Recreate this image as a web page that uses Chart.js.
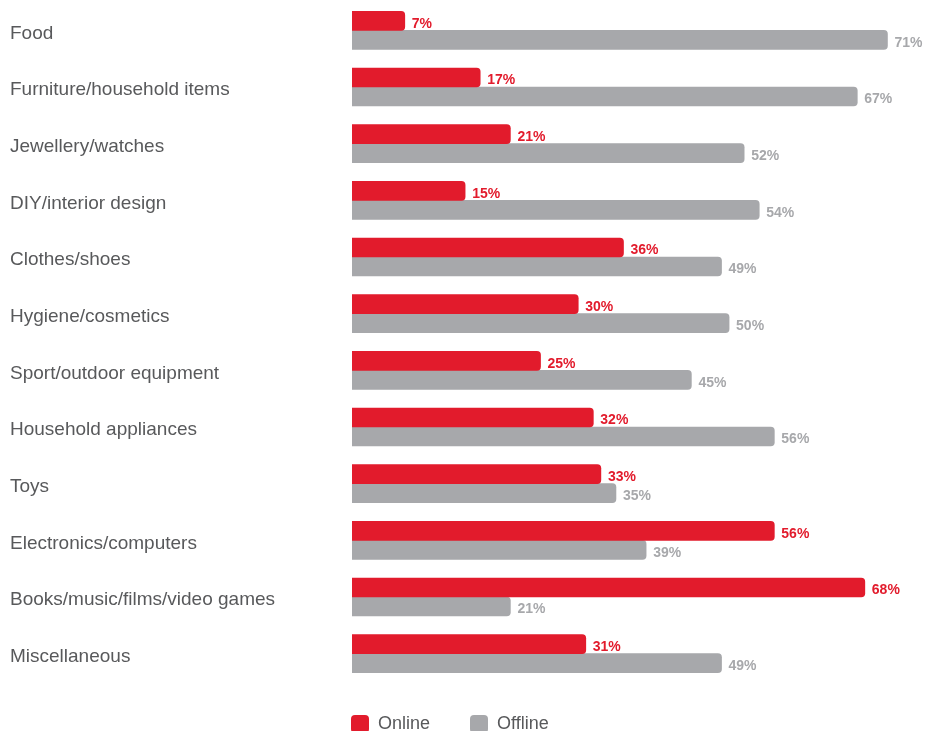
<!DOCTYPE html>
<html>
<head>
<meta charset="utf-8">
<script src="https://cdn.jsdelivr.net/npm/chart.js@4/dist/chart.umd.min.js"></script>
<style>
  html, body { margin: 0; padding: 0; background: #ffffff; }
  #wrap { position: relative; width: 935px; height: 731px; overflow: hidden; }
  #chart { position: absolute; left: 0; top: 0; }
  #legend { position: absolute; left: 351px; top: 713px; display: flex; align-items: center;
            font-family: "Liberation Sans", Arial, Helvetica, sans-serif; font-size: 18px; color: #58595b; }
  #legend .item { display: flex; align-items: center; margin-right: 40px; }
  #legend .box { width: 18px; height: 18px; border-radius: 4px; margin-right: 9px; }
</style>
</head>
<body>
<div id="wrap">
  <canvas id="chart" width="935" height="731"></canvas>
  <div id="legend"></div>
</div>
<script>
// ========== DATA ==========
var categories = [
  "Food",
  "Furniture/household items",
  "Jewellery/watches",
  "DIY/interior design",
  "Clothes/shoes",
  "Hygiene/cosmetics",
  "Sport/outdoor equipment",
  "Household appliances",
  "Toys",
  "Electronics/computers",
  "Books/music/films/video games",
  "Miscellaneous"
];
var onlineValues = [7, 17, 21, 15, 36, 30, 25, 32, 33, 56, 68, 31];
var offlineValues = [71, 67, 52, 54, 49, 50, 45, 56, 35, 39, 21, 49];
var seriesNames = ["Online", "Offline"];

var RED = "#e21b2c";
var GREY = "#a7a8ab";
var FONT = "'Liberation Sans', Arial, Helvetica, sans-serif";

// ========== VALUE LABELS ==========
var valueLabels = {
  id: "valueLabels",
  afterDatasetsDraw: function (chart) {
    var ctx = chart.ctx;
    ctx.save();
    ctx.font = "bold 14px " + FONT;
    ctx.textAlign = "left";
    ctx.textBaseline = "middle";
    chart.data.datasets.forEach(function (ds, i) {
      var meta = chart.getDatasetMeta(i);
      ctx.fillStyle = ds.backgroundColor;
      meta.data.forEach(function (bar, j) {
        ctx.fillText(ds.data[j] + "%", bar.x + 7, bar.y + 3);
      });
    });
    ctx.restore();
  }
};

// ========== CHART ==========
var chart = new Chart(document.getElementById("chart"), {
  type: "bar",
  data: {
    labels: categories,
    datasets: [
      {
        label: seriesNames[0],
        data: onlineValues,
        backgroundColor: RED,
        borderRadius: 4,
        barThickness: 19
      },
      {
        label: seriesNames[1],
        data: offlineValues,
        backgroundColor: GREY,
        borderRadius: 4,
        barThickness: 19
      }
    ]
  },
  options: {
    indexAxis: "y",
    responsive: false,
    animation: false,
    layout: { padding: { left: 10, right: 40, top: 2, bottom: 49 } },
    plugins: {
      legend: { display: false },
      tooltip: { enabled: false }
    },
    scales: {
      x: {
        display: false,
        min: 0,
        max: 72
      },
      y: {
        grid: { display: false },
        border: { display: false },
        ticks: {
          crossAlign: "far",
          font: { size: 19, family: FONT, lineHeight: 0.2 },
          color: "#58595b",
          padding: 0,
          labelOffset: 3
        },
        afterFit: function (axis) { axis.width = 342; }
      }
    }
  },
  plugins: [valueLabels]
});

// ========== LEGEND ==========
var legendEl = document.getElementById("legend");
chart.data.datasets.forEach(function (ds) {
  var item = document.createElement("div");
  item.className = "item";
  var box = document.createElement("span");
  box.className = "box";
  box.style.background = ds.backgroundColor;
  var txt = document.createElement("span");
  txt.textContent = ds.label;
  item.appendChild(box);
  item.appendChild(txt);
  legendEl.appendChild(item);
});
</script>
</body>
</html>
